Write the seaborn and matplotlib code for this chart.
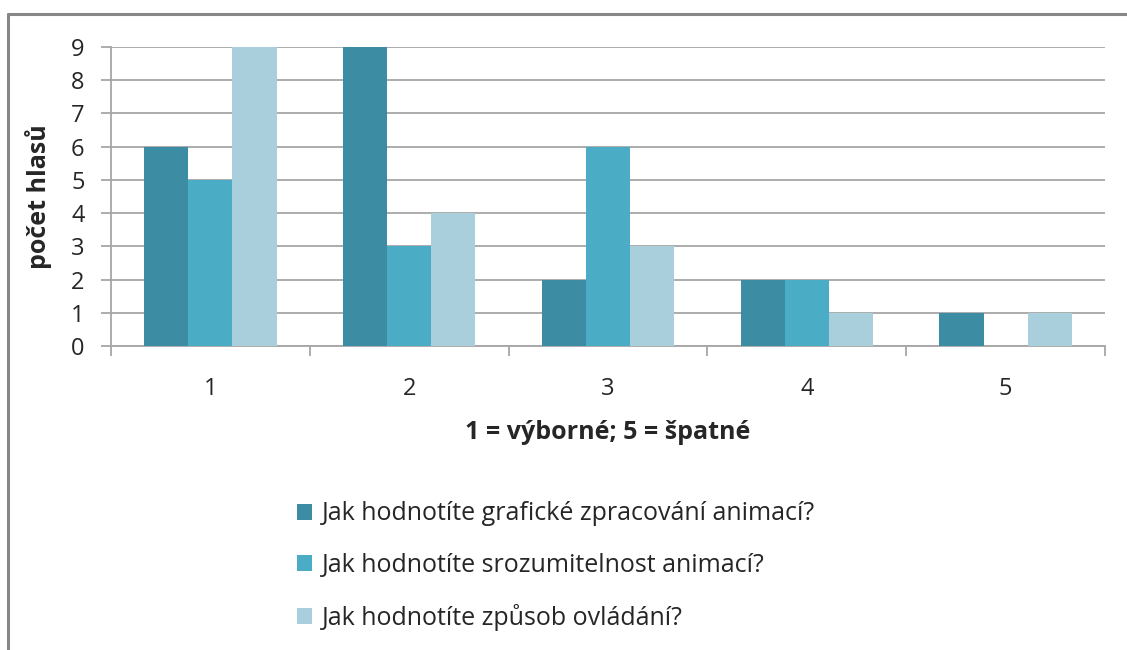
import pandas as pd
import matplotlib.pyplot as plt
import seaborn as sns
from matplotlib.lines import Line2D
from matplotlib.patches import Patch

# data
categories = ['1', '2', '3', '4', '5']
series_names = ['Jak hodnotíte grafické zpracování animací?',
                'Jak hodnotíte srozumitelnost animací?',
                'Jak hodnotíte způsob ovládání?']
grafika = [6, 9, 2, 2, 1]
srozumitelnost = [5, 3, 6, 2, 0]
ovladani = [9, 4, 3, 1, 1]

COLORS = ['#3C8DA4', '#4BACC6', '#A9CEDC']
GRID = '#A6A6A6'

df = pd.DataFrame({
    'hodnoceni': categories * 3,
    'serie': [series_names[0]] * 5 + [series_names[1]] * 5 + [series_names[2]] * 5,
    'hlasy': grafika + srozumitelnost + ovladani,
})

sns.set_style('white')
plt.rcParams['font.family'] = ['Open Sans', 'DejaVu Sans']

fig = plt.figure(figsize=(11.27, 6.5), dpi=100)
ax = fig.add_axes([111 / 1127, 1 - 346 / 650, (1105 - 111) / 1127, (346 - 47) / 650])

sns.barplot(data=df, x='hodnoceni', y='hlasy', hue='serie', palette=COLORS,
            width=0.665, gap=0, saturation=1, linewidth=0, ax=ax, legend=False, zorder=3)

ax.set_xlim(-0.5, 4.5)
ax.set_ylim(0, 9)
ax.set_yticks(range(0, 10))
ax.yaxis.grid(True, color=GRID, linewidth=1.3, zorder=0)
ax.set_axisbelow(True)
for s in ['top', 'right']:
    ax.spines[s].set_visible(False)
for s in ['left', 'bottom']:
    ax.spines[s].set_color(GRID)
    ax.spines[s].set_linewidth(1.3)

ax.tick_params(axis='y', length=7, width=1.3, color=GRID, labelsize=17, pad=12, left=True)
ax.tick_params(axis='x', which='major', length=0, labelsize=17, pad=22)
ax.set_xticks([i - 0.5 for i in range(6)], minor=True)
ax.tick_params(axis='x', which='minor', length=7, width=1.3, color=GRID, bottom=True)

ax.set_xlabel('1 = výborné; 5 = špatné', fontsize=18, fontweight='bold', labelpad=14)
ax.set_ylabel('počet hlasů', fontsize=18, fontweight='bold', labelpad=14)

handles = [Patch(facecolor=c, edgecolor='none') for c in COLORS]
fig.legend(handles, series_names, loc='upper left', bbox_to_anchor=(274 / 1127, 1 - 479 / 650),
           frameon=False, fontsize=18, handlelength=0.6, handleheight=0.6,
           handletextpad=0.4, labelspacing=1.05)

# outer border (top + left only, as in the original)
fig.add_artist(Line2D([8 / 1127, 1], [1 - 14 / 650, 1 - 14 / 650], color='#878787', linewidth=2.2, transform=fig.transFigure))
fig.add_artist(Line2D([8 / 1127, 8 / 1127], [0, 1 - 14 / 650], color='#878787', linewidth=2.2, transform=fig.transFigure))

fig.savefig('out.png', dpi=100, facecolor='white')
